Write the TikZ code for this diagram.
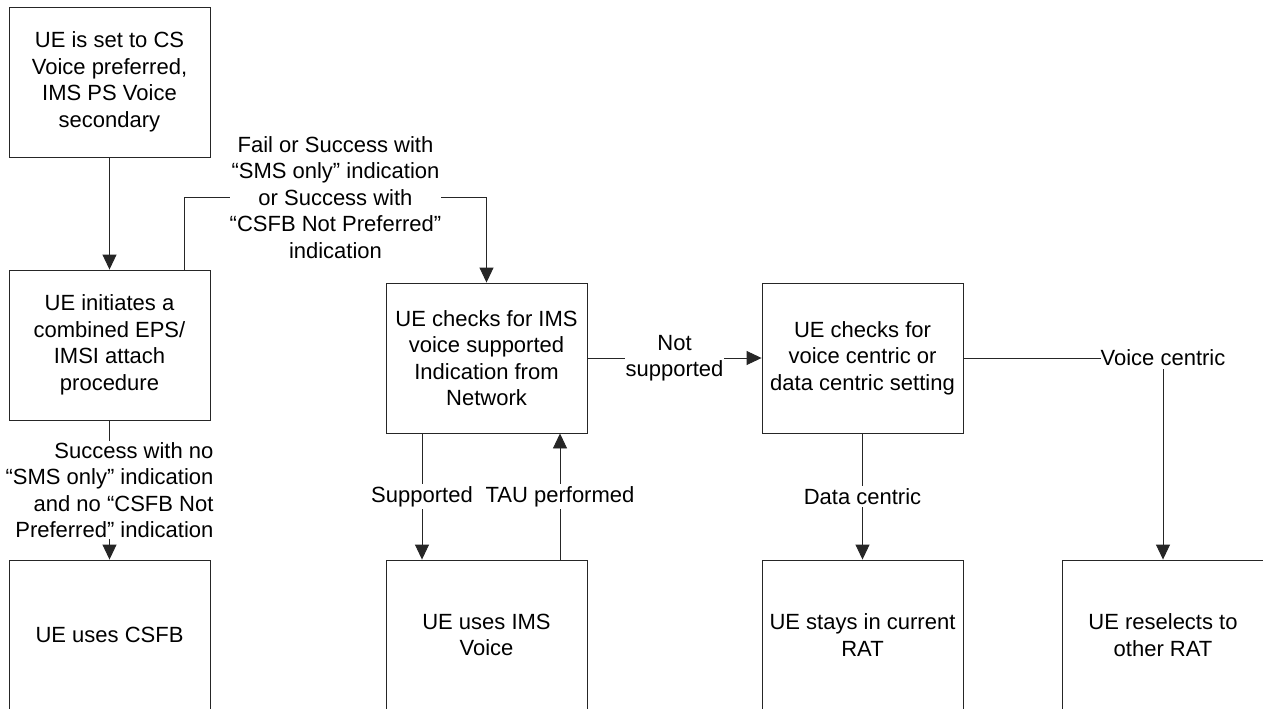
\documentclass[tikz,border=0pt]{standalone}
\usepackage{fontspec}
\setmainfont{Liberation Sans}
\usetikzlibrary{arrows.meta}
\begin{document}
\begin{tikzpicture}[x=1pt,y=-1pt,
  box/.style={draw=black!85, line width=0.9pt, minimum width=201pt, minimum height=150pt,
    inner sep=0pt, align=center, font=\fontsize{22}{26.5}\selectfont},
  lbl/.style={fill=white, inner xsep=1pt, inner ysep=2pt, align=center,
    font=\fontsize{22}{26.5}\selectfont},
  conn/.style={draw=black!85, line width=0.9pt},
  arr/.style={conn, -{Triangle[length=15pt,width=14pt]}}]
\useasboundingbox (0,0) rectangle (1263,709);
\fill[white] (0,0) rectangle (1263,709);
% boxes
\node[box] (b1) at (109.5,82) {UE is set to CS\\Voice preferred,\\IMS PS Voice\\secondary};
\node[box] (b2) at (109.5,345) {UE initiates a\\combined EPS/\\IMSI attach\\procedure};
\node[box] (b3) at (109.5,635) {UE uses CSFB};
\node[box] (c1) at (486.5,358) {UE checks for IMS\\voice supported\\Indication from\\Network};
\node[box] (c2) at (862.5,358) {UE checks for\\voice centric or\\data centric setting};
\node[box] (v) at (486.5,635) {UE uses IMS\\Voice};
\node[box] (s) at (862.5,635) {UE stays in current\\RAT};
\node[box] (r) at (1163,635) {UE reselects to\\other RAT};
% connectors
\draw[arr] (b1.south) -- (b2.north);
\draw[arr] ([xshift=-26pt]b2.north east) -- ++(0,-72) -| node[pos=0.25, lbl, inner xsep=0pt]
  {Fail or Success with\\“SMS only” indication\\or Success with\\“CSFB Not Preferred”\\indication} (c1.north);
\draw[arr] (b2.south) -- node[lbl, align=right, inner xsep=0pt, inner ysep=1pt]
  {Success with no\\“SMS only” indication\\and no “CSFB Not\\Preferred” indication} (b3.north);
\draw[arr] ([xshift=-64.5pt]c1.south) -- node[lbl]{Supported} ([xshift=-64.5pt]v.north);
\draw[arr] ([xshift=73.5pt]v.north) -- node[lbl]{TAU performed} ([xshift=73.5pt]c1.south);
\draw[arr] (c1.east) -- node[lbl]{Not\\supported} (c2.west);
\draw[arr] (c2.south) -- node[lbl]{Data centric} (s.north);
\draw[arr] (c2.east) -| node[pos=0.5, lbl, inner xsep=0pt, inner ysep=3pt]{Voice centric} (r.north);
\end{tikzpicture}
\end{document}
